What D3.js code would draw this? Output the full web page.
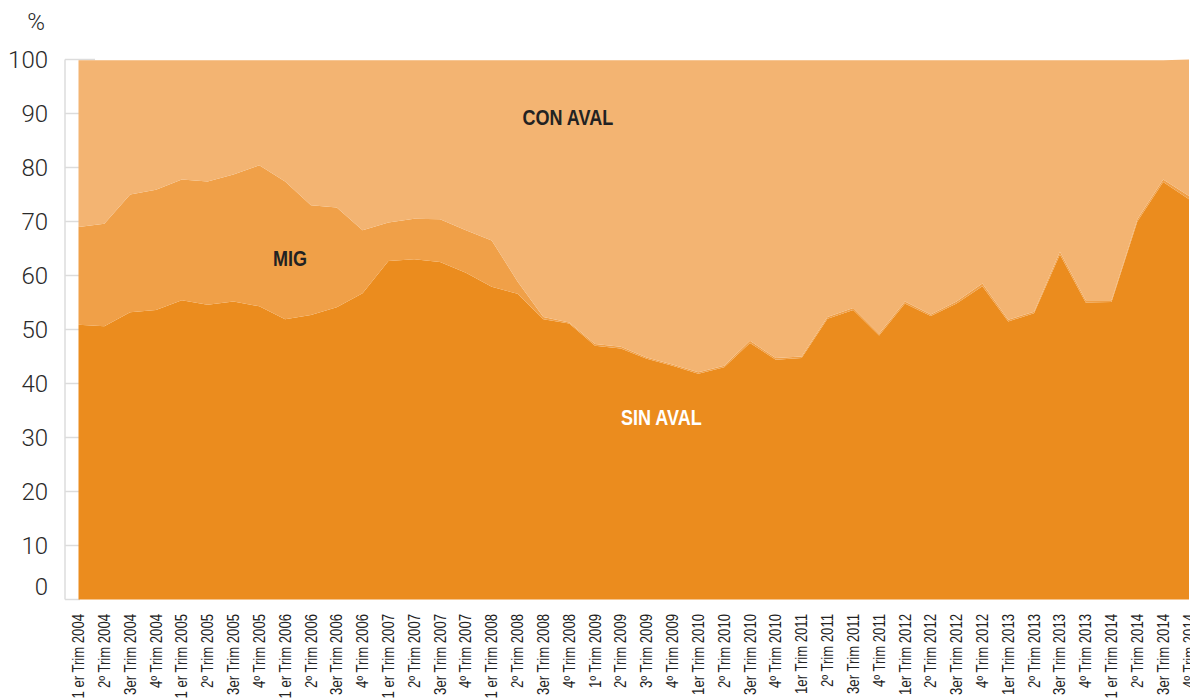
<!DOCTYPE html>
<html>
<head>
<meta charset="utf-8">
<script src="https://cdnjs.cloudflare.com/ajax/libs/d3/7.8.5/d3.min.js"></script>
<style>
  body { margin:0; background:#fff; }
  svg { display:block; }
</style>
</head>
<body>
<svg id="mainSVG" width="1190" height="700"></svg>
<script>
!function(){
  var width=1190,height=700;

  // quarters 2004 - 2014
  var quarters = [
    '1 er Trim 2004','2º Trim 2004','3er Trim 2004','4º Trim 2004',
    '1 er Trim 2005','2º Trim 2005','3er Trim 2005','4º Trim 2005',
    '1 er Trim 2006','2º Trim 2006','3er Trim 2006','4º Trim 2006',
    '1 er Trim 2007','2º Trim 2007','3er Trim 2007','4º Trim 2007',
    '1 er Trim 2008','2º Trim 2008','3er Trim 2008','4º Trim 2008',
    '1º Trim 2009','2º Trim 2009','3º Trim 2009','4º Trim 2009',
    '1er Trim 2010','2º Trim 2010','3er Trim 2010','4º Trim 2010',
    '1er Trim 2011','2º Trim 2011','3er Trim 2011','4º Trim 2011',
    '1er Trim 2012','2º Trim 2012','3er Trim 2012','4º Trim 2012',
    '1er Trim 2013','2º Trim 2013','3er Trim 2013','4º Trim 2013',
    '1 er Trim 2014','2º Trim 2014','3er Trim 2014','4º Trim 2014'
  ];
  var sinAval = [
    50.9,50.6,53.2,53.6, 55.4,54.6,55.2,54.3, 51.9,52.7,54.1,56.7,
    62.7,63.0,62.5,60.5, 57.9,56.6,51.9,51.1, 47.0,46.5,44.6,43.3,
    41.8,43.0,47.5,44.4, 44.7,52.0,53.6,48.9, 54.8,52.5,54.8,58.0,
    51.5,53.0,63.9,55.0, 55.1,70.0,77.3,74.1
  ];
  var mig = [
    18.1,19.0,21.8,22.3, 22.4,22.8,23.5,26.1, 25.5,20.3,18.5,11.7,
    7.1,7.5,7.9,7.9, 8.6,2.3,0.4,0.2, 0.3,0.3,0.2,0.2,
    0.3,0.3,0.4,0.3, 0.3,0.3,0.4,0.3, 0.4,0.3,0.4,0.5,
    0.3,0.3,0.5,0.4, 0.3,0.4,0.5,0.6
  ];
  var conAval = [
    31.0,30.4,25.0,24.1, 22.2,22.6,21.3,19.6, 22.6,27.0,27.4,31.6,
    30.2,29.5,29.6,31.6, 33.5,41.1,47.7,48.7, 52.7,53.2,55.2,56.5,
    57.9,56.7,52.1,55.3, 55.0,47.7,46.0,50.8, 44.8,47.2,44.8,41.5,
    48.2,46.7,35.6,44.6, 44.6,29.6,22.2,25.3
  ];
  var yTicks = [0,10,20,30,40,50,60,70,80,90,100];

  var keys = ['sin','mig','con'];
  var colors = {sin:'#eb8c1e', mig:'#f0a048', con:'#f3b472'};

  var table = quarters.map(function(q,i){
    return {q:q, sin:sinAval[i], mig:mig[i], con:conAval[i]};
  });

  var x = d3.scalePoint().domain(quarters).range([78.5,1189]);
  var y = d3.scaleLinear().domain([0,100]).range([599.5,59.5]);

  var svg = d3.select('#mainSVG');
  var narrow = '"Liberation Sans Narrow", "Arial Narrow", "Liberation Sans", Arial, sans-serif';

  // left axis line + little ticks (they sit under the areas)
  svg.append('g')
    .selectAll('line')
    .data(yTicks)
    .enter().append('line')
    .attr('x1',65).attr('x2',function(d){return d==100 ? 95 : 80;})
    .attr('y1',function(d){return y(d);})
    .attr('y2',function(d){return y(d);})
    .attr('stroke','#dcdcdc').attr('stroke-width',1.5);
  svg.append('line')
    .attr('x1',65).attr('x2',65)
    .attr('y1',y(100)).attr('y2',y(0))
    .attr('stroke','#dcdcdc').attr('stroke-width',1.5);

  var series = d3.stack().keys(keys)(table);
  var area = d3.area()
    .x(function(d){return x(d.data.q);})
    .y0(function(d){return y(d[0]);})
    .y1(function(d){return y(d[1]) + (d[1]>=100 ? 0.8 : 0);});

  svg.append('g')
    .selectAll('path')
    .data(series)
    .enter().append('path')
    .attr('d',area)
    .attr('fill',function(d){return colors[d.key];});

  // y labels
  svg.append('g')
    .selectAll('text')
    .data(yTicks)
    .enter().append('text')
    .attr('x',48)
    .attr('y',function(d){return y(d) + (d==0 ? -13 : 0);})
    .attr('dy','0.35em')
    .attr('text-anchor','end')
    .attr('font-family','Roboto, "Liberation Sans", sans-serif')
    .attr('font-weight',300)
    .attr('font-size','24px')
    .attr('fill','#2a2a2a')
    .text(function(d){return d;});

  svg.append('text')
    .attr('x',36).attr('y',30)
    .attr('text-anchor','middle')
    .attr('font-family','Roboto, "Liberation Sans", sans-serif')
    .attr('font-weight',300)
    .attr('font-size','24px')
    .attr('fill','#2a2a2a')
    .text('%');

  // x labels, rotated and squeezed a bit (narrow face)
  svg.append('g')
    .selectAll('text')
    .data(quarters)
    .enter().append('text')
    .attr('transform',function(d){return 'translate('+x(d)+',614) rotate(-90) scale(0.82,1)';})
    .attr('dy','0.35em')
    .attr('text-anchor','end')
    .attr('font-family',narrow)
    .attr('font-size','16px')
    .attr('fill','#222')
    .text(function(d){return d;});

  // series names on the areas
  var names = [
    {t:'CON AVAL', q:'2º Trim 2009', v:87.8, dx:-53, c:'#222'},
    {t:'MIG', q:'1 er Trim 2006', v:61.8, dx:5, c:'#222'},
    {t:'SIN AVAL', q:'1er Trim 2010', v:32.3, dx:-37, c:'#fff'}
  ];
  svg.append('g')
    .selectAll('text')
    .data(names)
    .enter().append('text')
    .attr('transform',function(d){return 'translate('+(x(d.q)+d.dx)+','+y(d.v)+') scale(0.82,1)';})
    .attr('text-anchor','middle')
    .attr('font-family',narrow)
    .attr('font-weight','bold')
    .attr('font-size','22px')
    .attr('fill',function(d){return d.c;})
    .text(function(d){return d.t;});
}();
</script>
</body>
</html>
